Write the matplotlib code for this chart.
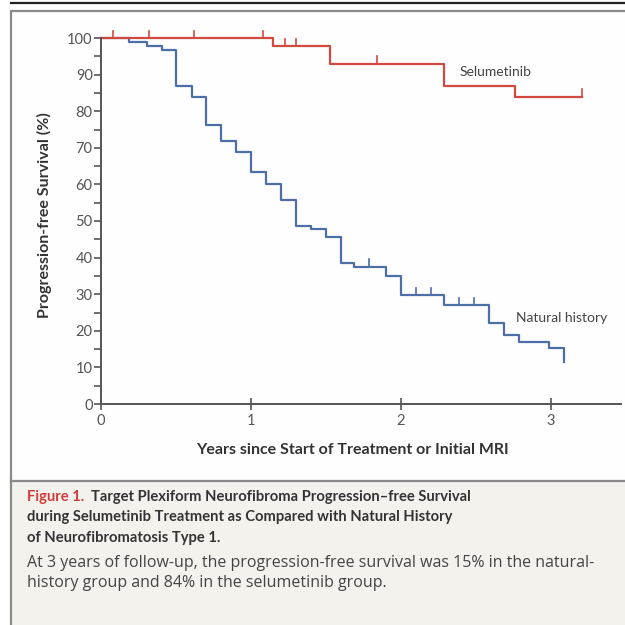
import numpy as np
import matplotlib
matplotlib.use("Agg")
import matplotlib.pyplot as plt
from matplotlib.patches import Rectangle
from matplotlib.lines import Line2D

plt.rcParams['font.family'] = ['Lato', 'DejaVu Sans']

# Kaplan-Meier step data (years, % progression-free)
nat_t = [0.0, 0.19, 0.31, 0.41, 0.50, 0.61, 0.70, 0.80, 0.90, 1.00, 1.10, 1.20,
         1.30, 1.40, 1.50, 1.60, 1.69, 1.90, 2.00, 2.29, 2.59, 2.69, 2.79, 2.99, 3.09]
nat_s = [100, 98.8, 97.7, 96.6, 87.0, 83.8, 76.2, 71.8, 68.8, 63.4, 60.0, 55.7,
         48.7, 47.8, 45.6, 38.6, 37.5, 35.0, 29.8, 27.0, 22.0, 18.9, 16.9, 15.2, 11.6]
nat_cens_t = [1.79, 2.10, 2.20, 2.39, 2.49]

sel_t = [0.0, 1.15, 1.53, 2.29, 2.76, 3.21]
sel_s = [100, 97.7, 93.0, 87.0, 84.0, 84.0]
sel_cens_t = [0.08, 0.32, 0.62, 1.08, 1.23, 1.30, 1.84, 3.21]

x_ticks = [0, 1, 2, 3]
y_ticks = list(range(0, 101, 10))

caption_title = "Target Plexiform Neurofibroma Progression\u2013free Survival"
caption_lines = ["during Selumetinib Treatment as Compared with Natural History",
                 "of Neurofibromatosis Type 1."]
caption_body = ["At 3 years of follow-up, the progression-free survival was 15% in the natural-",
                "history group and 84% in the selumetinib group."]

RED = '#d14a3f'
BLUE = '#4d6fa8'
AXC = '#555555'


def step_value(t, s, x):
    idx = np.searchsorted(t, x, side='right') - 1
    return s[idx]


fig = plt.figure(figsize=(6.25, 6.25), dpi=100)
W = H = 625.0


def fx(px):
    return px / W


def fy(py):
    return 1 - py / H


# panel frame and caption box
fig.patches.append(Rectangle((fx(11), fy(625)), 1.2, fy(481) - fy(625),
                             transform=fig.transFigure, facecolor='#f4f2ed',
                             edgecolor='none', zorder=-2))
fig.patches.append(Rectangle((fx(11), fy(481)), 1.2, fy(11) - fy(481),
                             transform=fig.transFigure, facecolor='#fefefe',
                             edgecolor='#8a8a8a', linewidth=1.6, zorder=-1))
fig.lines.append(Line2D([fx(11), fx(11)], [fy(481), fy(630)], transform=fig.transFigure,
                        color='#8a8a8a', linewidth=1.6, zorder=-1))
fig.lines.append(Line2D([fx(11), 1.0], [fy(3), fy(3)], transform=fig.transFigure,
                        color='#222222', linewidth=1.6, zorder=-1))

ax = fig.add_axes([fx(101), fy(404), fx(621) - fx(101), fy(38) - fy(404)])
ax.set_facecolor('none')
ax.set_xlim(0, 3.467)
ax.set_ylim(0, 100)

ax.plot(nat_t, nat_s, drawstyle='steps-post', color=BLUE, lw=1.6, clip_on=False, zorder=3)
ax.plot(sel_t, sel_s, drawstyle='steps-post', color=RED, lw=1.6, clip_on=False, zorder=4)

# censoring marks
for t in nat_cens_t:
    v = step_value(nat_t, nat_s, t)
    ax.plot([t, t], [v, v + 2.0], color=BLUE, lw=1.2, clip_on=False, zorder=3)
for t in sel_cens_t:
    v = step_value(sel_t, sel_s, t)
    ax.plot([t, t], [v, v + 2.0], color=RED, lw=1.2, clip_on=False, zorder=4)

ax.text(2.39, 90.8, "Selumetinib", fontsize=10, color='#444444', va='center')
ax.text(2.77, 23.5, "Natural history", fontsize=10, color='#444444', va='center')

for side in ('top', 'right'):
    ax.spines[side].set_visible(False)
for side in ('left', 'bottom'):
    ax.spines[side].set_color(AXC)
    ax.spines[side].set_linewidth(1.4)
ax.spines['left'].set_zorder(5)

ax.set_xticks(x_ticks)
ax.set_yticks(y_ticks)
ax.set_yticks(range(5, 100, 10), minor=True)
ax.tick_params(axis='y', which='both', direction='out', length=5, width=1.2,
               color=AXC, labelcolor='#555555', labelsize=10.5, pad=1)
ax.tick_params(axis='x', direction='inout', length=8, width=1.2,
               color=AXC, labelcolor='#555555', labelsize=10.5, pad=3)

ax.set_ylabel("Progression-free Survival (%)", fontsize=11.5, fontweight='bold',
              color='#333333', va='center')
ax.yaxis.set_label_coords(-0.108, 0.516)
ax.set_xlabel("Years since Start of Treatment or Initial MRI", fontsize=11.5,
              fontweight='bold', color='#333333', va='center')
ax.xaxis.set_label_coords(0.483, -0.126)

# caption
fig.text(fx(27), fy(497), "Figure 1.", color='#d23b3b', fontsize=10.6, fontweight='bold',
         va='center')
fig.text(fx(91), fy(497), caption_title, color='#333333', fontsize=10.6,
         fontweight='bold', va='center')
for i, line in enumerate(caption_lines):
    fig.text(fx(27), fy(517 + 21 * i), line, color='#333333', fontsize=10.6,
             fontweight='bold', va='center')
for i, line in enumerate(caption_body):
    fig.text(fx(27), fy(563 + 20 * i), line, color='#444444', fontsize=11.5,
             family=['Open Sans', 'DejaVu Sans'], va='center')

fig.savefig("out.png", dpi=100)
